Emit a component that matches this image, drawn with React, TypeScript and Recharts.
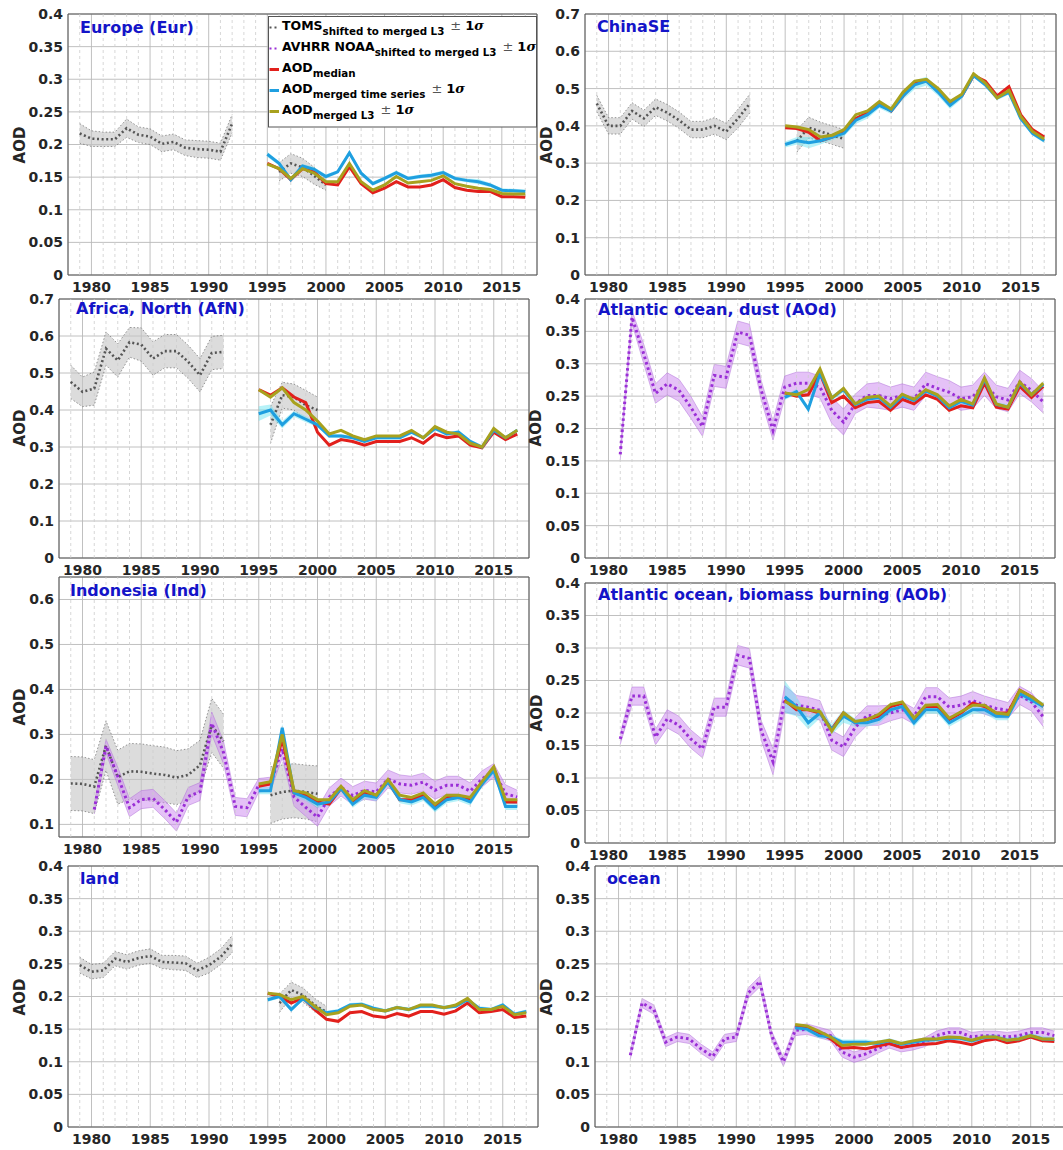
import React from 'react';
import { ComposedChart, Line, Area, XAxis, YAxis, CartesianGrid, ReferenceLine, ReferenceArea } from 'recharts';

// ---------- categories / ticks ----------
const years = [1979, 1980, 1981, 1982, 1983, 1984, 1985, 1986, 1987, 1988, 1989, 1990, 1991, 1992, 1993, 1994, 1995, 1996, 1997, 1998, 1999, 2000, 2001, 2002, 2003, 2004, 2005, 2006, 2007, 2008, 2009, 2010, 2011, 2012, 2013, 2014, 2015, 2016, 2017];
const minorYears = [1979, 1981, 1982, 1983, 1984, 1986, 1987, 1988, 1989, 1991, 1992, 1993, 1994, 1996, 1997, 1998, 1999, 2001, 2002, 2003, 2004, 2006, 2007, 2008, 2009, 2011, 2012, 2013, 2014, 2016, 2017];
const xTicks = [1980, 1985, 1990, 1995, 2000, 2005, 2010, 2015];
const ticks04 = [0, 0.05, 0.1, 0.15, 0.2, 0.25, 0.3, 0.35, 0.4];
const ticks07 = [0, 0.1, 0.2, 0.3, 0.4, 0.5, 0.6, 0.7];
const ticksInd = [0.1, 0.2, 0.3, 0.4, 0.5, 0.6];

// start years of the series arrays
const TOMS_START = 1979; // TOMS arrays: 1979..2000
const AVHRR_START = 1981; // AVHRR arrays: 1981..2017
const MERGED_START = 1995; // median / merged / L3 arrays: 1995..2017

// ---------- Europe ----------
const eurToms = [0.217, 0.209, 0.208, 0.208, 0.225, 0.215, 0.212, 0.201, 0.204, 0.195, 0.193, 0.192, 0.189, 0.232, null, null, null, 0.158, 0.171, 0.165, 0.152, 0.138];
const eurTomsSd = [0.015, 0.012, 0.011, 0.011, 0.014, 0.012, 0.012, 0.012, 0.012, 0.012, 0.013, 0.013, 0.013, 0.014, null, null, null, 0.014, 0.015, 0.014, 0.013, 0.008];
const eurMedian = [0.171, 0.163, 0.146, 0.163, 0.158, 0.140, 0.138, 0.166, 0.140, 0.126, 0.133, 0.143, 0.135, 0.135, 0.138, 0.146, 0.134, 0.130, 0.128, 0.128, 0.120, 0.120, 0.119];
const eurMerged = [0.185, 0.171, 0.146, 0.167, 0.162, 0.151, 0.158, 0.187, 0.156, 0.140, 0.148, 0.157, 0.148, 0.151, 0.153, 0.157, 0.148, 0.145, 0.143, 0.138, 0.130, 0.129, 0.128];
const eurMergedSd = [0.004, 0.003, 0.003, 0.003, 0.003, 0.003, 0.003, 0.004, 0.003, 0.003, 0.003, 0.003, 0.003, 0.003, 0.003, 0.003, 0.003, 0.003, 0.004, 0.003, 0.003, 0.003, 0.003];
const eurL3 = [0.170, 0.163, 0.148, 0.163, 0.156, 0.143, 0.143, 0.171, 0.143, 0.130, 0.138, 0.151, 0.141, 0.143, 0.145, 0.152, 0.140, 0.136, 0.133, 0.131, 0.125, 0.124, 0.124];

// ---------- ChinaSE ----------
const chnToms = [0.46, 0.40, 0.40, 0.44, 0.42, 0.45, 0.435, 0.415, 0.39, 0.39, 0.40, 0.385, 0.42, 0.46, null, null, null, 0.36, 0.395, 0.385, 0.375, 0.365];
const chnTomsSd = [0.022, 0.022, 0.022, 0.022, 0.022, 0.022, 0.022, 0.022, 0.022, 0.022, 0.022, 0.022, 0.025, 0.025, null, null, null, 0.03, 0.028, 0.025, 0.025, 0.025];
const chnMedian = [0.395, 0.393, 0.383, 0.36, 0.37, 0.385, 0.42, 0.435, 0.46, 0.44, 0.48, 0.515, 0.52, 0.495, 0.46, 0.48, 0.535, 0.52, 0.48, 0.505, 0.43, 0.39, 0.37];
const chnMerged = [0.35, 0.36, 0.355, 0.36, 0.37, 0.38, 0.415, 0.43, 0.455, 0.44, 0.48, 0.51, 0.52, 0.49, 0.455, 0.48, 0.535, 0.51, 0.475, 0.49, 0.42, 0.38, 0.36];
const chnMergedSd = [0.008, 0.01, 0.015, 0.01, 0.008, 0.008, 0.01, 0.01, 0.008, 0.008, 0.01, 0.012, 0.012, 0.01, 0.01, 0.008, 0.006, 0.006, 0.006, 0.006, 0.006, 0.006, 0.006];
const chnL3 = [0.40, 0.397, 0.39, 0.37, 0.375, 0.39, 0.43, 0.44, 0.465, 0.445, 0.49, 0.52, 0.525, 0.50, 0.465, 0.485, 0.54, 0.515, 0.475, 0.495, 0.425, 0.385, 0.365];

// ---------- Africa, North ----------
const afnToms = [0.476, 0.449, 0.458, 0.566, 0.534, 0.583, 0.577, 0.539, 0.559, 0.559, 0.53, 0.494, 0.554, 0.557, null, null, null, 0.36, 0.44, 0.435, 0.413, 0.40];
const afnTomsSd = [0.045, 0.04, 0.045, 0.045, 0.045, 0.04, 0.045, 0.045, 0.045, 0.045, 0.045, 0.045, 0.045, 0.045, null, null, null, 0.05, 0.035, 0.035, 0.04, 0.035];
const afnMedian = [0.455, 0.44, 0.46, 0.435, 0.42, 0.34, 0.305, 0.32, 0.315, 0.305, 0.315, 0.315, 0.315, 0.325, 0.31, 0.335, 0.325, 0.33, 0.305, 0.298, 0.34, 0.32, 0.335];
const afnMerged = [0.39, 0.40, 0.36, 0.39, 0.375, 0.36, 0.33, 0.33, 0.325, 0.315, 0.325, 0.325, 0.325, 0.34, 0.325, 0.35, 0.335, 0.34, 0.315, 0.30, 0.345, 0.325, 0.345];
const afnMergedSd = [0.02, 0.015, 0.01, 0.008, 0.008, 0.006, 0.005, 0.005, 0.005, 0.005, 0.005, 0.005, 0.005, 0.005, 0.005, 0.005, 0.005, 0.005, 0.005, 0.005, 0.005, 0.005, 0.005];
const afnL3 = [0.455, 0.435, 0.46, 0.42, 0.40, 0.37, 0.335, 0.345, 0.33, 0.32, 0.33, 0.33, 0.33, 0.345, 0.325, 0.355, 0.34, 0.335, 0.31, 0.30, 0.35, 0.325, 0.345];

// ---------- Atlantic ocean, dust ----------
const aodAvhrr = [0.16, 0.372, 0.315, 0.254, 0.269, 0.259, 0.233, 0.203, 0.282, 0.279, 0.349, 0.344, 0.259, 0.197, 0.264, 0.27, 0.27, 0.264, 0.228, 0.21, 0.238, 0.251, 0.251, 0.246, 0.251, 0.246, 0.269, 0.262, 0.256, 0.246, 0.249, 0.269, 0.249, 0.244, 0.272, 0.259, 0.241];
const aodAvhrrSd = [0.008, 0.01, 0.015, 0.015, 0.017, 0.017, 0.017, 0.015, 0.017, 0.017, 0.017, 0.017, 0.015, 0.015, 0.017, 0.017, 0.017, 0.017, 0.02, 0.02, 0.015, 0.018, 0.02, 0.018, 0.018, 0.018, 0.018, 0.018, 0.018, 0.018, 0.018, 0.018, 0.018, 0.018, 0.018, 0.018, 0.017];
const aodMedian = [0.255, 0.25, 0.252, 0.285, 0.24, 0.25, 0.232, 0.24, 0.242, 0.228, 0.245, 0.238, 0.252, 0.245, 0.228, 0.235, 0.232, 0.27, 0.233, 0.23, 0.265, 0.248, 0.265];
const aodMerged = [0.248, 0.257, 0.23, 0.285, 0.247, 0.26, 0.237, 0.245, 0.248, 0.233, 0.25, 0.243, 0.258, 0.25, 0.232, 0.242, 0.236, 0.276, 0.237, 0.233, 0.27, 0.252, 0.268];
const aodMergedSd = [0.004, 0.004, 0.004, 0.004, 0.004, 0.004, 0.004, 0.004, 0.004, 0.004, 0.004, 0.004, 0.004, 0.004, 0.004, 0.004, 0.004, 0.004, 0.004, 0.004, 0.004, 0.004, 0.004];
const aodL3 = [0.255, 0.252, 0.26, 0.292, 0.247, 0.262, 0.238, 0.248, 0.25, 0.235, 0.253, 0.245, 0.26, 0.252, 0.235, 0.245, 0.238, 0.278, 0.238, 0.233, 0.272, 0.252, 0.27];

// ---------- Indonesia ----------
const indToms = [0.191, 0.19, 0.184, 0.275, 0.205, 0.218, 0.217, 0.213, 0.21, 0.204, 0.21, 0.232, 0.32, 0.285, null, null, null, 0.165, 0.172, 0.175, 0.172, 0.168];
const indTomsSd = [0.06, 0.06, 0.06, 0.055, 0.06, 0.062, 0.062, 0.062, 0.062, 0.06, 0.058, 0.055, 0.06, 0.06, null, null, null, 0.063, 0.06, 0.06, 0.06, 0.062];
const indAvhrr = [0.133, 0.274, 0.207, 0.137, 0.155, 0.158, 0.133, 0.105, 0.162, 0.173, 0.325, 0.26, 0.14, 0.137, 0.187, 0.19, 0.268, 0.161, 0.138, 0.116, 0.161, 0.183, 0.164, 0.176, 0.172, 0.201, 0.19, 0.187, 0.194, 0.176, 0.187, 0.187, 0.174, 0.201, 0.22, 0.168, 0.161];
const indAvhrrSd = [0.01, 0.015, 0.02, 0.02, 0.02, 0.02, 0.02, 0.02, 0.02, 0.02, 0.025, 0.025, 0.02, 0.02, 0.015, 0.015, 0.02, 0.02, 0.02, 0.02, 0.02, 0.02, 0.02, 0.02, 0.02, 0.02, 0.02, 0.02, 0.02, 0.02, 0.02, 0.02, 0.018, 0.018, 0.015, 0.02, 0.015];
const indMedian = [0.185, 0.19, 0.29, 0.17, 0.165, 0.15, 0.145, 0.18, 0.15, 0.17, 0.165, 0.195, 0.155, 0.155, 0.165, 0.14, 0.16, 0.16, 0.155, 0.19, 0.225, 0.15, 0.15];
const indMerged = [0.175, 0.175, 0.315, 0.17, 0.16, 0.145, 0.15, 0.18, 0.145, 0.165, 0.16, 0.195, 0.155, 0.15, 0.16, 0.135, 0.155, 0.16, 0.15, 0.19, 0.22, 0.14, 0.14];
const indMergedSd = [0.008, 0.008, 0.008, 0.008, 0.008, 0.008, 0.008, 0.008, 0.008, 0.008, 0.008, 0.008, 0.008, 0.008, 0.008, 0.008, 0.008, 0.008, 0.008, 0.008, 0.008, 0.008, 0.008];
const indL3 = [0.19, 0.195, 0.30, 0.175, 0.17, 0.155, 0.155, 0.185, 0.155, 0.175, 0.165, 0.2, 0.165, 0.16, 0.17, 0.145, 0.165, 0.165, 0.16, 0.195, 0.228, 0.155, 0.155];

// ---------- Atlantic ocean, biomass burning ----------
const aobAvhrr = [0.16, 0.226, 0.226, 0.163, 0.191, 0.181, 0.16, 0.145, 0.209, 0.209, 0.289, 0.284, 0.173, 0.125, 0.222, 0.212, 0.209, 0.204, 0.158, 0.148, 0.178, 0.196, 0.196, 0.2, 0.205, 0.195, 0.225, 0.225, 0.209, 0.212, 0.219, 0.212, 0.207, 0.204, 0.227, 0.217, 0.194];
const aobAvhrrSd = [0.008, 0.014, 0.014, 0.012, 0.014, 0.014, 0.014, 0.014, 0.014, 0.014, 0.015, 0.015, 0.015, 0.02, 0.02, 0.015, 0.015, 0.015, 0.015, 0.015, 0.015, 0.015, 0.015, 0.012, 0.012, 0.012, 0.014, 0.014, 0.014, 0.014, 0.014, 0.014, 0.014, 0.012, 0.014, 0.014, 0.015];
const aobMedian = [0.22, 0.205, 0.205, 0.20, 0.175, 0.20, 0.185, 0.19, 0.195, 0.21, 0.215, 0.19, 0.21, 0.21, 0.19, 0.20, 0.215, 0.21, 0.20, 0.20, 0.235, 0.225, 0.21];
const aobMerged = [0.225, 0.21, 0.185, 0.20, 0.175, 0.195, 0.185, 0.185, 0.19, 0.205, 0.21, 0.185, 0.205, 0.205, 0.185, 0.195, 0.205, 0.205, 0.195, 0.195, 0.23, 0.22, 0.21];
const aobMergedSd = [0.025, 0.015, 0.01, 0.008, 0.008, 0.01, 0.006, 0.006, 0.006, 0.006, 0.006, 0.006, 0.006, 0.006, 0.006, 0.006, 0.006, 0.006, 0.006, 0.006, 0.006, 0.006, 0.006];
const aobL3 = [0.218, 0.208, 0.205, 0.202, 0.172, 0.2, 0.187, 0.19, 0.198, 0.213, 0.217, 0.192, 0.212, 0.213, 0.192, 0.202, 0.212, 0.212, 0.2, 0.198, 0.235, 0.225, 0.212];

// ---------- land ----------
const landToms = [0.248, 0.238, 0.24, 0.258, 0.253, 0.259, 0.262, 0.253, 0.252, 0.251, 0.24, 0.248, 0.261, 0.281, null, null, null, 0.19, 0.21, 0.202, 0.187, 0.176];
const landTomsSd = [0.012, 0.011, 0.011, 0.011, 0.011, 0.011, 0.011, 0.01, 0.011, 0.011, 0.011, 0.012, 0.012, 0.013, null, null, null, 0.014, 0.012, 0.011, 0.01, 0.009];
const landMedian = [0.205, 0.20, 0.19, 0.198, 0.18, 0.165, 0.162, 0.175, 0.177, 0.17, 0.168, 0.174, 0.17, 0.177, 0.177, 0.173, 0.178, 0.19, 0.175, 0.177, 0.18, 0.168, 0.17];
const landMerged = [0.195, 0.20, 0.18, 0.197, 0.183, 0.175, 0.178, 0.187, 0.188, 0.182, 0.178, 0.183, 0.18, 0.185, 0.185, 0.183, 0.185, 0.195, 0.182, 0.18, 0.187, 0.173, 0.177];
const landMergedSd = [0.003, 0.003, 0.003, 0.003, 0.003, 0.003, 0.003, 0.003, 0.003, 0.003, 0.003, 0.003, 0.003, 0.003, 0.003, 0.003, 0.003, 0.003, 0.003, 0.003, 0.003, 0.003, 0.003];
const landL3 = [0.205, 0.203, 0.195, 0.2, 0.185, 0.172, 0.175, 0.185, 0.187, 0.18, 0.178, 0.183, 0.18, 0.187, 0.187, 0.183, 0.187, 0.197, 0.18, 0.18, 0.185, 0.172, 0.175];

// ---------- ocean ----------
const oceAvhrr = [0.11, 0.19, 0.18, 0.13, 0.138, 0.135, 0.12, 0.108, 0.135, 0.138, 0.205, 0.223, 0.14, 0.1, 0.148, 0.15, 0.145, 0.14, 0.115, 0.107, 0.112, 0.12, 0.128, 0.122, 0.125, 0.13, 0.14, 0.145, 0.145, 0.138, 0.14, 0.14, 0.138, 0.14, 0.145, 0.145, 0.14];
const oceAvhrrSd = [0.006, 0.007, 0.007, 0.007, 0.007, 0.007, 0.007, 0.007, 0.007, 0.007, 0.008, 0.008, 0.007, 0.007, 0.008, 0.008, 0.008, 0.008, 0.008, 0.008, 0.008, 0.007, 0.007, 0.007, 0.007, 0.007, 0.007, 0.007, 0.007, 0.007, 0.007, 0.007, 0.007, 0.007, 0.007, 0.007, 0.007];
const oceMedian = [0.155, 0.153, 0.145, 0.135, 0.121, 0.122, 0.12, 0.124, 0.128, 0.122, 0.125, 0.127, 0.128, 0.132, 0.13, 0.126, 0.132, 0.135, 0.129, 0.132, 0.138, 0.132, 0.131];
const oceMerged = [0.152, 0.15, 0.14, 0.138, 0.13, 0.13, 0.13, 0.128, 0.132, 0.127, 0.13, 0.133, 0.134, 0.136, 0.136, 0.132, 0.137, 0.138, 0.133, 0.135, 0.14, 0.135, 0.134];
const oceMergedSd = [0.004, 0.004, 0.004, 0.004, 0.004, 0.004, 0.004, 0.004, 0.004, 0.004, 0.004, 0.004, 0.004, 0.004, 0.004, 0.004, 0.004, 0.004, 0.004, 0.004, 0.004, 0.004, 0.004];
const oceL3 = [0.157, 0.155, 0.147, 0.138, 0.125, 0.127, 0.127, 0.13, 0.133, 0.128, 0.132, 0.135, 0.135, 0.138, 0.137, 0.133, 0.138, 0.138, 0.133, 0.135, 0.14, 0.135, 0.135];

// ---------- helpers ----------
type Arr = (number | null)[];
type Series = {
  toms?: Arr; tomsSd?: Arr; avhrr?: Arr; avhrrSd?: Arr;
  median: Arr; merged: Arr; mergedSd: Arr; l3: Arr;
};

const at = (arr: Arr | undefined, year: number, start: number): number | null => {
  if (!arr) return null;
  const v = arr[year - start];
  return v == null ? null : v;
};

const band = (v: number | null, s: number | null) => (v != null && s != null ? [v - s, v + s] : null);

function buildRows(s: Series) {
  return years.map((year) => {
    const toms = at(s.toms, year, TOMS_START);
    const avhrr = at(s.avhrr, year, AVHRR_START);
    const merged = at(s.merged, year, MERGED_START);
    return {
      year,
      toms,
      tomsBand: band(toms, at(s.tomsSd, year, TOMS_START)),
      avhrr,
      avhrrBand: band(avhrr, at(s.avhrrSd, year, AVHRR_START)),
      median: at(s.median, year, MERGED_START),
      merged,
      mergedBand: band(merged, at(s.mergedSd, year, MERGED_START)),
      l3: at(s.l3, year, MERGED_START),
    };
  });
}

// ---------- styles / layout ----------
const C = {
  toms: '#555555',
  tomsBand: '#c4c4c4',
  avhrr: '#9a2fd6',
  avhrrBand: '#cf8ff0',
  median: '#e2201c',
  merged: '#1f9fe0',
  mergedBand: '#5fe3ef',
  l3: '#a8a11e',
  title: '#1414c8',
  text: '#262626',
};
const FONT = 'DejaVu Sans, Verdana, sans-serif';
const Y_AXIS_W = 62;
const X_AXIS_H = 30;
const PAD = 12;

type PanelCfg = {
  title: string;
  series: Series;
  rect: { left: number; top: number; right: number; bottom: number };
  yDomain: [number, number];
  yTicks: number[];
  titlePos: [number, number];
  aodPos: [number, number];
};

const panels: PanelCfg[] = [
  { title: 'Europe (Eur)', series: { toms: eurToms, tomsSd: eurTomsSd, median: eurMedian, merged: eurMerged, mergedSd: eurMergedSd, l3: eurL3 },
    rect: { left: 68, top: 14, right: 537, bottom: 275 }, yDomain: [0, 0.4], yTicks: ticks04, titlePos: [80, 33], aodPos: [20, 145] },
  { title: 'ChinaSE', series: { toms: chnToms, tomsSd: chnTomsSd, median: chnMedian, merged: chnMerged, mergedSd: chnMergedSd, l3: chnL3 },
    rect: { left: 585, top: 14, right: 1056, bottom: 275 }, yDomain: [0, 0.7], yTicks: ticks07, titlePos: [597, 32], aodPos: [547, 145] },
  { title: 'Africa, North (AfN)', series: { toms: afnToms, tomsSd: afnTomsSd, median: afnMedian, merged: afnMerged, mergedSd: afnMergedSd, l3: afnL3 },
    rect: { left: 59, top: 299, right: 529, bottom: 558 }, yDomain: [0, 0.7], yTicks: ticks07, titlePos: [76, 314], aodPos: [20, 428] },
  { title: 'Atlantic ocean, dust (AOd)', series: { avhrr: aodAvhrr, avhrrSd: aodAvhrrSd, median: aodMedian, merged: aodMerged, mergedSd: aodMergedSd, l3: aodL3 },
    rect: { left: 585, top: 299, right: 1055, bottom: 558 }, yDomain: [0, 0.4], yTicks: ticks04, titlePos: [598, 315], aodPos: [536, 428] },
  { title: 'Indonesia (Ind)', series: { toms: indToms, tomsSd: indTomsSd, avhrr: indAvhrr, avhrrSd: indAvhrrSd, median: indMedian, merged: indMerged, mergedSd: indMergedSd, l3: indL3 },
    rect: { left: 59, top: 577, right: 529, bottom: 837 }, yDomain: [0.072, 0.65], yTicks: ticksInd, titlePos: [70, 596], aodPos: [20, 707] },
  { title: 'Atlantic ocean, biomass burning (AOb)', series: { avhrr: aobAvhrr, avhrrSd: aobAvhrrSd, median: aobMedian, merged: aobMerged, mergedSd: aobMergedSd, l3: aobL3 },
    rect: { left: 585, top: 583, right: 1055, bottom: 843 }, yDomain: [0, 0.4], yTicks: ticks04, titlePos: [598, 600], aodPos: [537, 713] },
  { title: 'land', series: { toms: landToms, tomsSd: landTomsSd, median: landMedian, merged: landMerged, mergedSd: landMergedSd, l3: landL3 },
    rect: { left: 68, top: 866, right: 538, bottom: 1127 }, yDomain: [0, 0.4], yTicks: ticks04, titlePos: [80, 884], aodPos: [20, 997] },
  { title: 'ocean', series: { avhrr: oceAvhrr, avhrrSd: oceAvhrrSd, median: oceMedian, merged: oceMerged, mergedSd: oceMergedSd, l3: oceL3 },
    rect: { left: 595, top: 866, right: 1066, bottom: 1127 }, yDomain: [0, 0.4], yTicks: ticks04, titlePos: [607, 884], aodPos: [547, 997] },
];

const tickStyle = { fontSize: 14, fontWeight: 'bold', fill: C.text, fontFamily: FONT };

function Panel({ cfg }: { cfg: PanelCfg }) {
  const { left, top, right, bottom } = cfg.rect;
  const pw = right - left;
  const ph = bottom - top;
  const rows = buildRows(cfg.series);
  const s = cfg.series;
  return (
    <div style={{ position: 'absolute', left: left - Y_AXIS_W, top: top - PAD }}>
      <ComposedChart
        width={pw + Y_AXIS_W + PAD}
        height={ph + PAD + X_AXIS_H}
        data={rows}
        margin={{ top: PAD, right: PAD, bottom: 0, left: 0 }}
      >
        <CartesianGrid stroke="#b9b9b9" strokeWidth={0.9} />
        {minorYears.map((y) => (
          <ReferenceLine key={y} x={y} stroke="#cdcdcd" strokeWidth={0.8} strokeDasharray="3 3" />
        ))}
        <XAxis
          dataKey="year"
          type="number"
          domain={[1978, 2018]}
          ticks={xTicks}
          interval={0}
          allowDataOverflow
          tickSize={0}
          tickMargin={7}
          axisLine={false}
          tickLine={false}
          height={X_AXIS_H}
          tick={tickStyle}
        />
        <YAxis
          type="number"
          domain={cfg.yDomain}
          ticks={cfg.yTicks}
          interval={0}
          allowDataOverflow
          tickSize={0}
          tickMargin={5}
          axisLine={false}
          tickLine={false}
          width={Y_AXIS_W}
          tick={tickStyle}
          tickFormatter={(v: number) => String(v)}
        />
        {s.toms && (
          <Area type="linear" dataKey="tomsBand" fill={C.tomsBand} fillOpacity={0.6} stroke="#6a6a6a" strokeWidth={0.7}
            strokeDasharray="1.5 2" dot={false} activeDot={false} isAnimationActive={false} />
        )}
        {s.avhrr && (
          <Area type="linear" dataKey="avhrrBand" fill={C.avhrrBand} fillOpacity={0.55} stroke="#b070d8" strokeWidth={0.5}
            dot={false} activeDot={false} isAnimationActive={false} />
        )}
        <Area type="linear" dataKey="mergedBand" fill={C.mergedBand} fillOpacity={0.45} stroke="none"
          dot={false} activeDot={false} isAnimationActive={false} />
        {s.toms && (
          <Line type="linear" dataKey="toms" stroke={C.toms} strokeWidth={2.6} strokeDasharray="2 2.6"
            dot={false} activeDot={false} isAnimationActive={false} />
        )}
        {s.avhrr && (
          <Line type="linear" dataKey="avhrr" stroke={C.avhrr} strokeWidth={3} strokeDasharray="2.6 3"
            dot={false} activeDot={false} isAnimationActive={false} />
        )}
        <Line type="linear" dataKey="median" stroke={C.median} strokeWidth={3} dot={false} activeDot={false} isAnimationActive={false} />
        <Line type="linear" dataKey="merged" stroke={C.merged} strokeWidth={3} dot={false} activeDot={false} isAnimationActive={false} />
        <Line type="linear" dataKey="l3" stroke={C.l3} strokeWidth={3} dot={false} activeDot={false} isAnimationActive={false} />
        <ReferenceArea x1={1978} x2={2018} y1={cfg.yDomain[0]} y2={cfg.yDomain[1]} fill="none" stroke="#555555"
          strokeWidth={1} fillOpacity={0} ifOverflow="visible" />
      </ComposedChart>
    </div>
  );
}

const legendRows = [
  { y: 30, main: 'TOMS', sub: 'shifted to merged L3', pm: true, color: C.toms, dotted: true },
  { y: 51, main: 'AVHRR NOAA', sub: 'shifted to merged L3', pm: true, color: C.avhrr, dotted: true },
  { y: 72, main: 'AOD', sub: 'median', pm: false, color: C.median, dotted: false },
  { y: 93, main: 'AOD', sub: 'merged time series', pm: true, color: C.merged, dotted: false },
  { y: 114, main: 'AOD', sub: 'merged L3', pm: true, color: C.l3, dotted: false },
];

function Overlay() {
  return (
    <svg width={1063} height={1150} style={{ position: 'absolute', left: 0, top: 0, pointerEvents: 'none' }} fontFamily={FONT}>
      {panels.map((p) => (
        <text key={p.title} x={p.titlePos[0]} y={p.titlePos[1]} fontSize={16} fontWeight="bold" fill={C.title}>
          {p.title}
        </text>
      ))}
      {panels.map((p) => (
        <text key={'aod' + p.title} transform={`translate(${p.aodPos[0]},${p.aodPos[1]}) rotate(-90)`} textAnchor="middle"
          dominantBaseline="central" fontSize={15} fontWeight="bold" fill={C.text}>
          AOD
        </text>
      ))}
      <rect x={268.5} y={16.5} width={268} height={110.5} fill="#ffffff" stroke="#555555" strokeWidth={1} />
      {legendRows.map((r) => (
        <g key={r.main + r.sub}>
          <line x1={269.5} x2={279} y1={r.y - 2.5} y2={r.y - 2.5} stroke={r.color}
            strokeWidth={r.dotted ? 2.2 : 3} strokeDasharray={r.dotted ? '2 3' : undefined} />
          <text x={282} y={r.y} fontSize={12.5} fontWeight="bold" fill="#000">
            {r.main}
            <tspan dy={5} fontSize={10.3}>{r.sub}</tspan>
            {r.pm && (
              <>
                <tspan dx={6} dy={-5} fontSize={13} fontWeight="normal" fill="#555">±</tspan>
                <tspan dx={4} fontSize={13}>1</tspan>
                <tspan fontSize={13} fontStyle="italic" fontFamily="DejaVu Serif, serif">σ</tspan>
              </>
            )}
          </text>
        </g>
      ))}
    </svg>
  );
}

export default function App() {
  return (
    <div style={{ position: 'absolute', left: 0, top: 0, width: 1063, height: 1150, overflow: 'hidden', background: '#ffffff', fontFamily: FONT }}>
      {panels.map((p) => (
        <Panel key={p.title} cfg={p} />
      ))}
      <Overlay />
    </div>
  );
}
